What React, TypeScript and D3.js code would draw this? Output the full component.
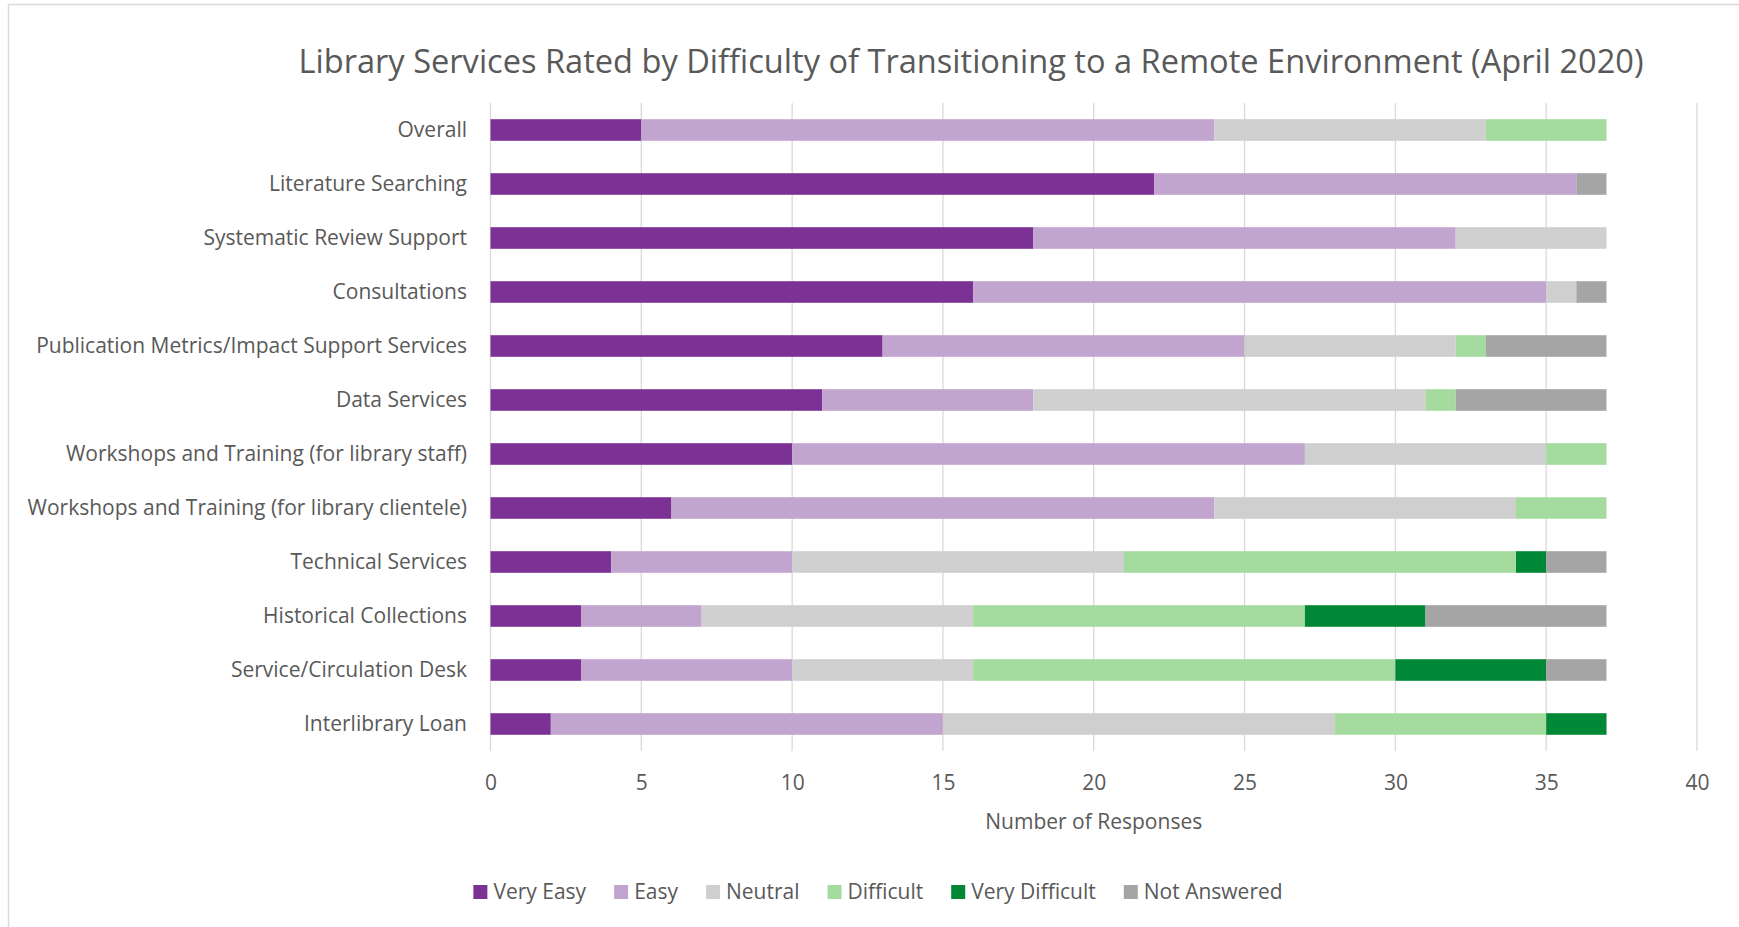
import React, { useRef, useEffect } from 'react';
import * as d3 from 'd3';

const categories = [
  'Overall',
  'Literature Searching',
  'Systematic Review Support',
  'Consultations',
  'Publication Metrics/Impact Support Services',
  'Data Services',
  'Workshops and Training (for library staff)',
  'Workshops and Training (for library clientele)',
  'Technical Services',
  'Historical Collections',
  'Service/Circulation Desk',
  'Interlibrary Loan',
];

const seriesNames = ['Very Easy', 'Easy', 'Neutral', 'Difficult', 'Very Difficult', 'Not Answered'];
const seriesColors = ['#7b3294', '#c2a5cf', '#d0cfcf', '#a6dba0', '#008837', '#a5a5a5'];

const veryEasy = [5, 22, 18, 16, 13, 11, 10, 6, 4, 3, 3, 2];
const easy = [19, 14, 14, 19, 12, 7, 17, 18, 6, 4, 7, 13];
const neutral = [9, 0, 5, 1, 7, 13, 8, 10, 11, 9, 6, 13];
const difficult = [4, 0, 0, 0, 1, 1, 2, 3, 13, 11, 14, 7];
const veryDifficult = [0, 0, 0, 0, 0, 0, 0, 0, 1, 4, 5, 2];
const notAnswered = [0, 1, 0, 1, 4, 5, 0, 0, 2, 6, 2, 0];

const xTicks = [0, 5, 10, 15, 20, 25, 30, 35, 40];

const title = 'Library Services Rated by Difficulty of Transitioning to a Remote Environment (April 2020)';
const xTitle = 'Number of Responses';

const App: React.FC = () => {
  const svgRef = useRef<SVGSVGElement>(null);

  useEffect(() => {
    document.body.style.margin = '0';
    const svg = d3.select(svgRef.current);
    svg.selectAll('*').remove();

    const width = 1739;
    const height = 927;
    const font = "'Open Sans', 'Noto Sans', sans-serif";
    const textColor = '#595959';
    const labelSize = 21;

    const values = [veryEasy, easy, neutral, difficult, veryDifficult, notAnswered];
    const rows = categories.map((c, i) => {
      const r: any = { category: c };
      seriesNames.forEach((s, j) => (r[s] = values[j][i]));
      return r;
    });
    const stacked = d3.stack<any>().keys(seriesNames)(rows);

    const x = d3.scaleLinear().domain([0, 40]).range([490.5, 1697]);
    const y = d3.scaleBand().domain(categories).range([103, 751]).paddingInner(0.6).paddingOuter(0.3);

    // chart border
    svg.append('rect')
      .attr('x', 8.5).attr('y', 4.5)
      .attr('width', width).attr('height', height)
      .attr('fill', 'white')
      .attr('stroke', '#d9d9d9')
      .attr('stroke-width', 1.5);

    // title
    svg.append('text')
      .attr('x', 971).attr('y', 73)
      .attr('text-anchor', 'middle')
      .attr('font-family', font)
      .attr('font-size', 32.6)
      .attr('fill', textColor)
      .text(title);

    // gridlines
    svg.append('g')
      .selectAll('line')
      .data(xTicks)
      .join('line')
      .attr('x1', d => x(d)).attr('x2', d => x(d))
      .attr('y1', 103).attr('y2', 751)
      .attr('stroke', '#d9d9d9')
      .attr('stroke-width', 1.3);

    // bars
    svg.append('g')
      .selectAll('g')
      .data(stacked)
      .join('g')
      .attr('fill', (_, i) => seriesColors[i])
      .selectAll('rect')
      .data(d => d)
      .join('rect')
      .attr('x', d => x(d[0]))
      .attr('y', d => y(d.data.category)!)
      .attr('width', d => x(d[1]) - x(d[0]))
      .attr('height', y.bandwidth());

    // x axis labels
    const xAxis = svg.append('g')
      .attr('transform', `translate(0,762)`)
      .call(d3.axisBottom(x).tickValues(xTicks).tickSize(0).tickPadding(0));
    xAxis.select('.domain').remove();
    xAxis.selectAll('text')
      .attr('dy', 0)
      .attr('y', 28)
      .attr('font-family', font)
      .attr('font-size', labelSize)
      .attr('fill', textColor);

    // y axis labels
    const yAxis = svg.append('g')
      .attr('transform', `translate(467,0)`)
      .call(d3.axisLeft(y).tickSize(0).tickPadding(0));
    yAxis.select('.domain').remove();
    yAxis.selectAll('text')
      .attr('font-family', font)
      .attr('font-size', labelSize)
      .attr('fill', textColor);

    // x axis title
    svg.append('text')
      .attr('x', (x(0) + x(40)) / 2).attr('y', 829)
      .attr('text-anchor', 'middle')
      .attr('font-family', font)
      .attr('font-size', labelSize)
      .attr('fill', textColor)
      .text(xTitle);

    // legend
    const legend = svg.append('g');
    let cursor = 0;
    seriesNames.forEach((s, i) => {
      const item = legend.append('g').attr('transform', `translate(${cursor},0)`);
      item.append('rect')
        .attr('x', 0).attr('y', 885)
        .attr('width', 14).attr('height', 14)
        .attr('fill', seriesColors[i]);
      const t = item.append('text')
        .attr('x', 20).attr('y', 899)
        .attr('font-family', font)
        .attr('font-size', labelSize)
        .attr('fill', textColor)
        .text(s);
      const w = (t.node() as SVGTextElement).getComputedTextLength();
      cursor += 20 + w + 28;
    });
    const total = cursor - 28;
    legend.attr('transform', `translate(${878 - total / 2},0)`);
  }, []);

  return <svg ref={svgRef} width={1739} height={927} style={{ display: 'block' }}></svg>;
};

export default App;
